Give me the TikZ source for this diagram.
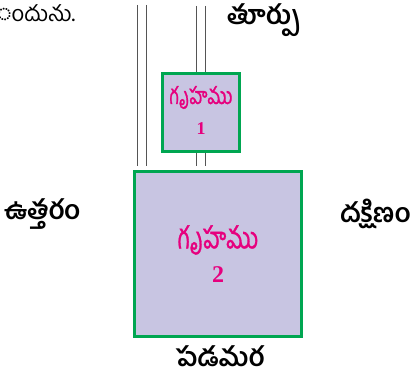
\documentclass[tikz,border=0pt]{standalone}
\usepackage{fontspec}
\usepackage{graphicx}
\newfontfamily\tel[Script=Telugu]{Hind Guntur}
\newfontfamily\telm[Script=Telugu,FakeBold=1.2]{Hind Guntur}
\setmainfont{Liberation Serif}
\definecolor{boxfill}{HTML}{C8C5E2}
\definecolor{boxline}{HTML}{00A651}
\definecolor{mag}{HTML}{E6007E}
\definecolor{wall}{HTML}{555555}
\begin{document}
\begin{tikzpicture}[x=1pt,y=-1pt,
  house/.style={draw=boxline,line width=2.5pt,fill=boxfill,inner sep=0pt},
  dir/.style={font=\tel\bfseries\fontsize{26.5}{28}\selectfont,inner sep=0pt},
  htext/.style={text=mag,font=\telm\fontsize{#1}{#1}\selectfont,inner sep=0pt,text height=0.8*#1pt,text depth=0.25*#1pt},
  num/.style={text=mag,font=\bfseries\fontsize{#1}{#1}\selectfont,inner sep=0pt},
  wallline/.style={draw=wall,line width=0.9pt}]
\useasboundingbox (0,0) rectangle (415,379);
\clip (0,0) rectangle (415,379);
% walls
\coordinate (a1) at (137,5); \coordinate (a2) at (137,166);
\coordinate (b1) at (146,5); \coordinate (b2) at (146,166);
\coordinate (c1) at (196,6); \coordinate (c2) at (196,166);
\coordinate (d1) at (205,6); \coordinate (d2) at (205,166);
\draw[wallline] (a1) -- (a2); \draw[wallline] (b1) -- (b2);
\draw[wallline] (c1) -- (c2); \draw[wallline] (d1) -- (d2);
% houses
\node[house,minimum width=77pt,minimum height=78pt] (h1) at (201,112.5) {};
\node[house,minimum width=167pt,minimum height=165pt] (h2) at (218,254) {};
\node[htext=18] (t1) at (201,99) {\scalebox{1}[1.3]{గృహము}};
\node[num=18] (n1) at (201,129) {1};
\node[htext=23] (t2) at (218,242) {\scalebox{1}[1.3]{గృహము}};
\node[num=24] (n2) at (218,275) {2};
% directions
\node[dir,anchor=west] (e) at (227,20) {తూర్పు};
\node[dir,anchor=west] (n) at (4,214) {ఉత్తరం};
\node[dir,anchor=west] (s) at (340,214) {దక్షిణం};
\node[dir] (w) at (220,356) {పడమర};
\node[font=\tel\fontsize{22}{24}\selectfont,anchor=west,inner sep=0pt] (top) at (-3,13) {ందును.};
\end{tikzpicture}
\end{document}
